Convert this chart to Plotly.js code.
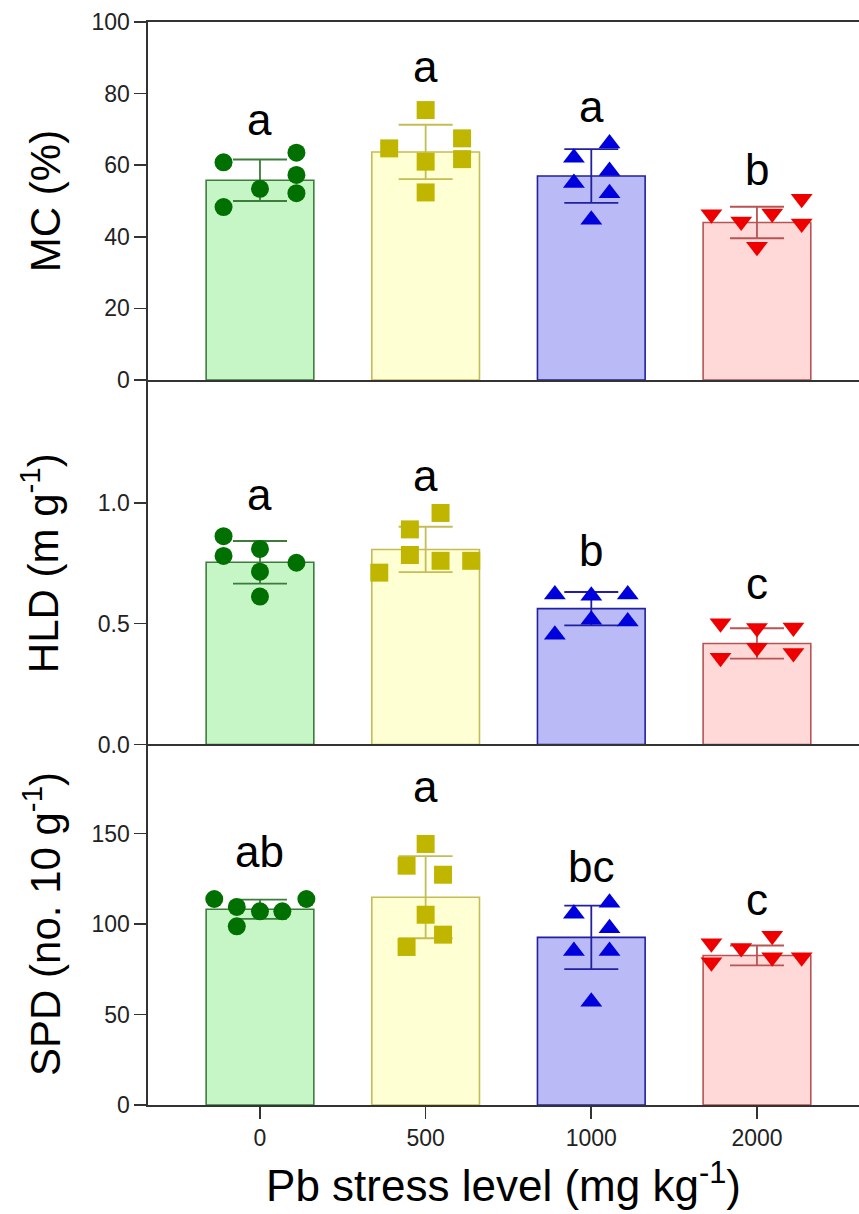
<!DOCTYPE html>
<html>
<head>
<meta charset="utf-8">
<script src="https://cdn.plot.ly/plotly-3.0.1.min.js"></script>
<style>html,body{margin:0;padding:0;background:#fff;}#chart{width:859px;height:1214px;}</style>
</head>
<body>
<div id="chart"></div>
<script>
// ---- categories / ticks ----
const categories = ['0', '500', '1000', '2000'];
const xTitle = 'Pb stress level (mg kg<sup>-1</sup>)';
const mcTicks = [0, 20, 40, 60, 80, 100];
const hldTicks = [0, 0.5, 1.0];
const hldTickText = ['0.0', '0.5', '1.0'];
const spdTicks = [0, 50, 100, 150];

// ---- panel 1: MC (%) ----
const mcMean = [55.8, 63.7, 57.0, 44.0];
const mcSD = [5.8, 7.6, 7.5, 4.4];
const mcPts0 = [60.8, 63.5, 57.3, 53.4, 52.2, 48.3];
const mcPts500 = [64.7, 67.5, 61.7, 61.0, 52.4, 75.4];
const mcPts1000 = [66.1, 62.1, 58.4, 55.0, 52.2, 44.8];
const mcPts2000 = [46.3, 44.3, 46.5, 50.6, 43.7, 37.2];
const mcJit0 = [-0.22, 0.22, 0.22, 0, 0.22, -0.22];
const mcJit500 = [-0.22, 0.22, 0.22, 0, 0, 0];
const mcJit1000 = [0.11, -0.105, 0.11, -0.105, 0.11, 0];
const mcJit2000 = [-0.275, -0.095, 0.092, 0.27, 0.27, 0];
const mcLetters = ['a', 'a', 'a', 'b'];
const mcLetterY = [72.9, 87.7, 76.5, 58.7];

// ---- panel 2: HLD ----
const hldMean = [0.754, 0.807, 0.562, 0.418];
const hldSD = [0.088, 0.094, 0.069, 0.063];
const hldPts0 = [0.862, 0.78, 0.809, 0.752, 0.715, 0.612];
const hldPts500 = [0.958, 0.89, 0.784, 0.76, 0.76, 0.711];
const hldPts1000 = [0.621, 0.615, 0.621, 0.516, 0.509, 0.454];
const hldPts2000 = [0.502, 0.482, 0.484, 0.40, 0.379, 0.359];
const hldJit0 = [-0.22, -0.22, 0, 0.22, 0, 0];
const hldJit500 = [0.09, -0.095, -0.095, 0.09, 0.275, -0.28];
const hldJit1000 = [-0.22, 0, 0.22, 0, 0.22, -0.22];
const hldJit2000 = [-0.22, 0, 0.22, 0, 0.22, -0.22];
const hldLetters = ['a', 'a', 'b', 'c'];
const hldLetterY = [1.035, 1.114, 0.804, 0.667];

// ---- panel 3: SPD ----
const spdMean = [108.1, 114.8, 92.6, 82.6];
const spdSD = [5.3, 22.7, 17.5, 5.5];
const spdPts0 = [113.8, 109.4, 107.0, 107.0, 113.8, 98.7];
const spdPts500 = [144.2, 132.2, 127.2, 105.1, 94.1, 87.3];
const spdPts1000 = [111.7, 105.6, 97.6, 85.1, 85.1, 57.0];
const spdPts2000 = [93.5, 89.3, 86.7, 81.6, 81.6, 78.9];
const spdJit0 = [-0.276, -0.14, 0, 0.135, 0.28, -0.14];
const spdJit500 = [0, -0.115, 0.105, 0, 0.105, -0.115];
const spdJit1000 = [0.11, -0.105, 0.11, -0.105, 0.11, 0];
const spdJit2000 = [0.092, -0.275, -0.095, 0.092, 0.27, -0.275];
const spdLetters = ['ab', 'a', 'bc', 'c'];
const spdLetterY = [139.8, 175.7, 131.5, 113.3];

// ---- styles ----
const fillCol = ['#c6f5c6', '#ffffd4', '#babaf7', '#ffd8d8'];
const lineCol = ['#3c7d3c', '#c4bd55', '#2020a0', '#b85454'];
const markCol = ['#007000', '#c0b600', '#0000dd', '#ee0000'];
const symbols = ['circle', 'square', 'triangle-up', 'triangle-down'];
const msize = [18, 18, 19, 19];
const FONT = 'Liberation Sans, Arial, sans-serif';

const idx = categories.map((c, i) => i);
const traces = [];
const annotations = [];

function addPanel(n, means, sds, ptsList, jitList, letters, letterY) {
  const xa = n === 1 ? 'x' : 'x' + n;
  const ya = n === 1 ? 'y' : 'y' + n;
  idx.forEach(i => {
    traces.push({
      type: 'bar', x: [idx[i]], y: [means[i]], xaxis: xa, yaxis: ya,
      width: 0.65,
      marker: {color: fillCol[i], line: {color: lineCol[i], width: 1.6}},
      error_y: {type: 'data', array: [sds[i]], visible: true, color: lineCol[i], thickness: 1.8, width: 27},
      hoverinfo: 'skip', showlegend: false
    });
  });
  idx.forEach(i => {
    traces.push({
      type: 'scatter', mode: 'markers', xaxis: xa, yaxis: ya,
      x: jitList[i].map(o => idx[i] + o), y: ptsList[i],
      marker: {symbol: symbols[i], size: msize[i], color: markCol[i], line: {width: 0}},
      showlegend: false, hoverinfo: 'skip', cliponaxis: false
    });
    annotations.push({
      xref: xa, yref: ya, x: idx[i], y: letterY[i], text: letters[i],
      showarrow: false, xanchor: 'center', yanchor: 'middle',
      font: {family: FONT, size: 44, color: '#000'}
    });
  });
}

addPanel(1, mcMean, mcSD, [mcPts0, mcPts500, mcPts1000, mcPts2000], [mcJit0, mcJit500, mcJit1000, mcJit2000], mcLetters, mcLetterY);
addPanel(2, hldMean, hldSD, [hldPts0, hldPts500, hldPts1000, hldPts2000], [hldJit0, hldJit500, hldJit1000, hldJit2000], hldLetters, hldLetterY);
addPanel(3, spdMean, spdSD, [spdPts0, spdPts500, spdPts1000, spdPts2000], [spdJit0, spdJit500, spdJit1000, spdJit2000], spdLetters, spdLetterY);

const axLine = '#333';
const xRange = [-0.676, 3.616];
function xAxis(anchor, showLabels, mirror) {
  return {
    anchor: anchor, range: xRange, domain: [0, 1],
    showline: true, linecolor: axLine, linewidth: 1.6, mirror: mirror,
    showgrid: false, zeroline: false,
    tickmode: 'array', tickvals: idx, ticktext: categories,
    ticks: showLabels ? 'outside' : '', ticklen: 12, tickwidth: 1.6, tickcolor: axLine,
    showticklabels: showLabels,
    tickfont: {family: FONT, size: 23, color: '#222'},
    fixedrange: true
  };
}
function yAxis(anchor, dom, range, tv, tt, title, standoff) {
  return {
    anchor: anchor, domain: dom, range: range,
    showline: true, linecolor: axLine, linewidth: 1.6,
    showgrid: false, zeroline: false,
    ticks: 'outside', ticklen: 12, tickwidth: 1.6, tickcolor: axLine,
    tickmode: 'array', tickvals: tv, ticktext: tt,
    tickfont: {family: FONT, size: 23, color: '#222'},
    title: {text: title, font: {family: FONT, size: 42, color: '#000'}, standoff: standoff},
    automargin: false, fixedrange: true
  };
}

const layout = {
  width: 859, height: 1214,
  margin: {l: 148, r: 0, t: 22, b: 109},
  paper_bgcolor: '#fff', plot_bgcolor: 'rgba(0,0,0,0)',
  barmode: 'overlay',
  showlegend: false,
  font: {family: FONT},
  xaxis: xAxis('y', false, true),
  xaxis2: xAxis('y2', false, false),
  xaxis3: Object.assign(xAxis('y3', true, false), {
    title: {text: xTitle, font: {family: FONT, size: 44, color: '#000'}, standoff: 20}
  }),
  yaxis: yAxis('x', [0.6694, 1], [0, 100], mcTicks, mcTicks.map(String), 'MC (%)', 18),
  yaxis2: yAxis('x2', [0.3329, 0.6676], [0, 1.5], hldTicks, hldTickText, 'HLD (m g<sup>-1</sup>)', 26),
  yaxis3: yAxis('x3', [0, 0.3343], [0, 200], spdTicks, spdTicks.map(String), 'SPD (no. 10 g<sup>-1</sup>)', 18),
  annotations: annotations
};

Plotly.newPlot('chart', traces, layout, {displayModeBar: false, staticPlot: true});
</script>
</body>
</html>
